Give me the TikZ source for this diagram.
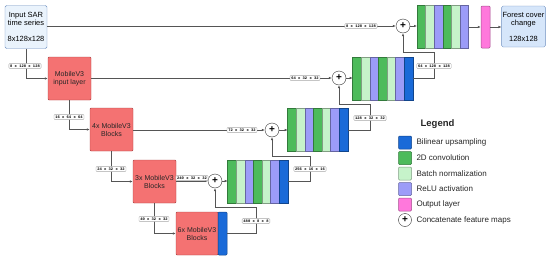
\documentclass[tikz,border=0pt]{standalone}
\usepackage{fontspec}
\setmainfont{Liberation Sans}
\newfontfamily\lblfont{Liberation Mono}
\usetikzlibrary{arrows.meta}

\definecolor{convgreen}{HTML}{4DBB5B}
\definecolor{bngreen}{HTML}{C6F3CA}
\definecolor{relublue}{HTML}{9C9CF8}
\definecolor{upblue}{HTML}{1A6AD8}
\definecolor{outpink}{HTML}{FF78DC}
\definecolor{mobred}{HTML}{F47272}
\definecolor{mobedge}{HTML}{A83C3C}
\definecolor{sarfill}{HTML}{EAF3FC}
\definecolor{forestfill}{HTML}{D6E6FA}
\definecolor{boxedge}{HTML}{6C8EBF}
\definecolor{wirecol}{HTML}{555555}

\begin{document}
\begin{tikzpicture}[x=1pt, y=-1pt,
    io/.style={draw=boxedge, rounded corners=1.5pt, align=center, minimum width=42pt, minimum height=43pt, inner sep=1pt, font=\fontsize{7.5}{8}\selectfont},
    mobile/.style={draw=mobedge, fill=mobred, rounded corners=1pt, align=center, minimum width=43pt, minimum height=43pt, inner sep=1pt, font=\fontsize{7}{8}\selectfont, text=black!85},
    plus/.style={circle, draw=black!80, fill=white, minimum size=14pt, inner sep=0pt, font=\fontsize{10}{10}\selectfont\bfseries},
    dec/.style={minimum height=43pt, inner sep=0pt},
    stripe/.style={fill=#1, draw=#1!65!black, line width=0.5pt},
    dims/.style={draw=black!35, fill=white, rounded corners=1pt, inner sep=1.3pt, font=\fontsize{3.8}{4.5}\selectfont\lblfont\bfseries},
    link/.style={draw=wirecol, line width=0.6pt},
    arr/.style={link, -{Latex[length=3pt,width=2.6pt]}},
    keytext/.style={anchor=west, font=\fontsize{8}{9}\selectfont, text=black!85}
  ]
  \useasboundingbox (0,0) rectangle (550,260);

  % Input and output boxes
  \node[io, fill=sarfill] (inp) at (26,27) {Input SAR\\time series\\[8pt]8x128x128};
  \node[io, fill=forestfill, minimum width=41pt, minimum height=41pt] (fcc) at (523.5,26.5) {Forest cover\\change\\[8pt]128x128};

  % Encoder
  \node[mobile] (inl) at (69.5,78.5) {MobileV3\\input layer};
  \node[mobile] (b4) at (111.5,129.5) {4x MobileV3\\Blocks};
  \node[mobile] (b3) at (154.5,181.5) {3x MobileV3\\Blocks};
  \node[mobile, minimum width=42pt] (b6) at (197,233.5) {6x MobileV3\\Blocks};
  \node[stripe=upblue, minimum width=9pt, minimum height=43pt, inner sep=0pt, rounded corners=1pt] (b6up) at (222.5,233.5) {};

  % Concatenation
  \node[plus] (c1) at (403,26) {+};
  \node[plus] (c2) at (339,78) {+};
  \node[plus] (c3) at (272,130) {+};
  \node[plus] (c4) at (215,181) {+};

  % Decoder blocks
  \node[dec, minimum width=51.6pt] (d1) at (443,27) {};
  \foreach \c [count=\i from 0] in {convgreen,bngreen,relublue,convgreen,bngreen,relublue}
    \draw[stripe=\c] ([xshift=\i*8.6pt]d1.north west) rectangle ++(8.6,43);
  \foreach \n/\x/\y in {d2/383/78.5, d3/318/130, d4/258/181.5} {
    \node[dec, minimum width=60.2pt] (\n) at (\x,\y) {};
    \foreach \c [count=\i from 0] in {convgreen,bngreen,relublue,convgreen,bngreen,relublue,upblue}
      \draw[stripe=\c] ([xshift=\i*8.6pt]\n.north west) rectangle ++(8.6,43);
  }
  \node[stripe=outpink, minimum width=9pt, minimum height=42pt, inner sep=0pt, rounded corners=1pt] (outl) at (485.5,27) {};

  % Encoder path
  \draw[arr] (inp.south) |- (inl.west);
  \node[dims] (e1) at (25,66) {8 x 128 x 128};
  \draw[arr] (inl.south) |- (b4.west);
  \node[dims] (e2) at (69,117) {16 x 64 x 64};
  \draw[arr] (b4.south) |- (b3.west);
  \node[dims] (e3) at (111,169) {24 x 32 x 32};
  \draw[arr] (b3.south) |- (b6.west);
  \node[dims] (e4) at (154,219) {40 x 32 x 32};

  % Skip connections
  \draw[arr] (inp.east |- c1) -- (c1.west);
  \node[dims] (s1) at (361,26) {8 x 128 x 128};
  \draw[arr] (inl.east |- c2) -- (c2.west);
  \node[dims] (s2) at (305,78) {64 x 32 x 32};
  \draw[arr] (b4.east |- c3) -- (c3.west);
  \node[dims] (s3) at (242,130) {72 x 32 x 32};
  \draw[arr] (b3.east |- c4) -- (c4.west);
  \node[dims] (s4) at (192,178) {240 x 32 x 32};

  % Concatenation to decoder
  \draw[arr] (c1.east) -- (c1.east -| d1.west);
  \draw[arr] (c2.east) -- (c2.east -| d2.west);
  \draw[arr] (c3.east) -- (c3.east -| d3.west);
  \draw[arr] (c4.east) -- (c4.east -| d4.west);
  \draw[arr] (d1.east) -- (outl.west);
  \draw[arr] (outl.east) -- (outl.east -| fcc.west);

  % Upsampling path
  \coordinate (u1) at (434,52);
  \coordinate (u2) at (370,104);
  \coordinate (u3) at (310,156);
  \coordinate (u4) at (256,207);
  \draw[arr] (d2.east) -| (u1) -| (c1.south);
  \node[dims] (p1) at (434,66) {64 x 128 x 128};
  \draw[arr] (d3.east) -| (u2) -| (c2.south);
  \node[dims] (p2) at (370,118) {128 x 32 x 32};
  \draw[arr] (d4.east) -| (u3) -| (c3.south);
  \node[dims] (p3) at (310,169) {256 x 16 x 16};
  \draw[arr] (b6up.east) -| (u4) -| (c4.south);
  \node[dims] (p4) at (256,221) {480 x 8 x 8};

  % Legend
  \node[font=\fontsize{9.5}{9.5}\selectfont\bfseries, text=black!85] (lgtitle) at (437.5,124) {Legend};
  \foreach \c/\t [count=\i] in {upblue/Bilinear upsampling, convgreen/2D convolution, bngreen/Batch normalization, relublue/ReLU activation, outpink/Output layer} {
    \node[stripe=\c, minimum size=13pt, inner sep=0pt, rounded corners=1pt] (key\i) at (405,127+15.5*\i) {};
    \node[keytext] (keytext\i) at (413,127+15.5*\i) {\t};
  }
  \node[plus, minimum size=13pt] (keyplus) at (405,220) {+};
  \node[keytext] (keytext6) at (413,220) {Concatenate feature maps};
\end{tikzpicture}
\end{document}
